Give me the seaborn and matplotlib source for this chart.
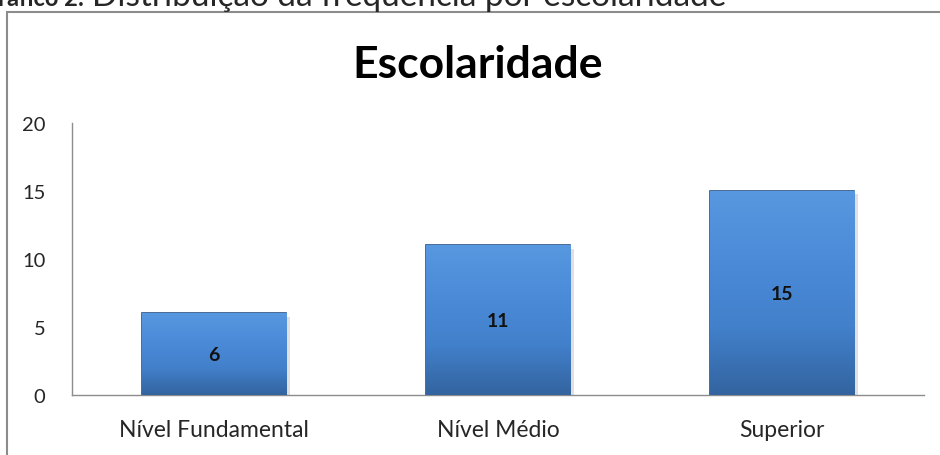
import numpy as np
import pandas as pd
import matplotlib
matplotlib.use("Agg")
import matplotlib.pyplot as plt
from matplotlib.patches import Rectangle
import seaborn as sns

# dados do gráfico
categorias = ["Nível Fundamental", "Nível Médio", "Superior"]
frequencia = [6, 11, 15]
yticks = [0, 5, 10, 15, 20]

df = pd.DataFrame({"escolaridade": categorias, "freq": frequencia})

sns.set_style("white")
plt.rcParams["font.family"] = ["Lato", "DejaVu Sans"]

fig = plt.figure(figsize=(9.4, 4.56), dpi=100)
ax = fig.add_axes([0.0766, 0.1316, 0.9064, 0.5964])

sns.barplot(data=df, x="escolaridade", y="freq", ax=ax, width=0.51,
            color="#4480cc", edgecolor="#2a5288", linewidth=1.2, zorder=3)

# gradiente nas barras
grad = np.linspace(0, 1, 256).reshape(-1, 1)
cmap = matplotlib.colors.LinearSegmentedColormap.from_list(
    "azul", ["#33649f", "#4280cb", "#4b8bd8", "#5898e0"])
for p in ax.patches:
    x0, y0 = p.get_x(), p.get_y()
    w, h = p.get_width(), p.get_height()
    im = ax.imshow(grad, extent=[x0, x0 + w, y0, y0 + h], origin="lower",
                   cmap=cmap, aspect="auto", zorder=3.5)
    im.set_clip_path(p)
    # sombra
    ax.add_patch(Rectangle((x0 + 0.012, y0 - 0.25), w, h, facecolor="#000000",
                           alpha=0.12, edgecolor="none", zorder=2))

for p, v in zip(ax.patches, frequencia):
    ax.text(p.get_x() + p.get_width() / 2, v / 2, str(v), ha="center", va="center",
            fontsize=14, fontweight="bold", color="#111111", zorder=5)

ax.set_ylim(0, 20)
ax.set_xlim(-0.5, len(categorias) - 0.5)
ax.set_yticks(yticks)
ax.set_yticklabels([str(t) for t in yticks], fontsize=14.5)
ax.set_xticks(range(len(categorias)))
ax.set_xticklabels(categorias, fontsize=16.5)
ax.set_xlabel("")
ax.set_ylabel("")

# marcas do eixo x entre categorias
ax.set_xticks(np.arange(-0.5, len(categorias)), minor=True)
ax.tick_params(axis="x", which="major", length=0, pad=17)
ax.tick_params(axis="x", which="minor", length=8, width=1, color="#8c8c8c", direction="out")
ax.tick_params(axis="y", length=8, width=1, color="#8c8c8c", direction="out", pad=11)

for s in ["top", "right"]:
    ax.spines[s].set_visible(False)
for s in ["left", "bottom"]:
    ax.spines[s].set_color("#8c8c8c")
    ax.spines[s].set_linewidth(1.0)

ax.set_title("Escolaridade", fontsize=32, fontweight="bold", color="#000000",
             x=(478 - 72) / 852, pad=33)

# moldura do gráfico
top = 1 - 13 / 456
fig.patches.append(Rectangle((7 / 940, -0.2), 1.2, top + 0.2, transform=fig.transFigure,
                             facecolor="none", edgecolor="#8c8c8c", linewidth=1.5))

# legenda cortada no topo
fig.text(84 / 940, 1 - 6 / 456, "Gráfico 2:", fontsize=17, fontweight="bold",
         ha="right", va="baseline")
fig.text(92 / 940, 1 - 6 / 456, "Distribuição da frequência por escolaridade",
         fontsize=24, ha="left", va="baseline")

fig.savefig("out.png", dpi=100)
